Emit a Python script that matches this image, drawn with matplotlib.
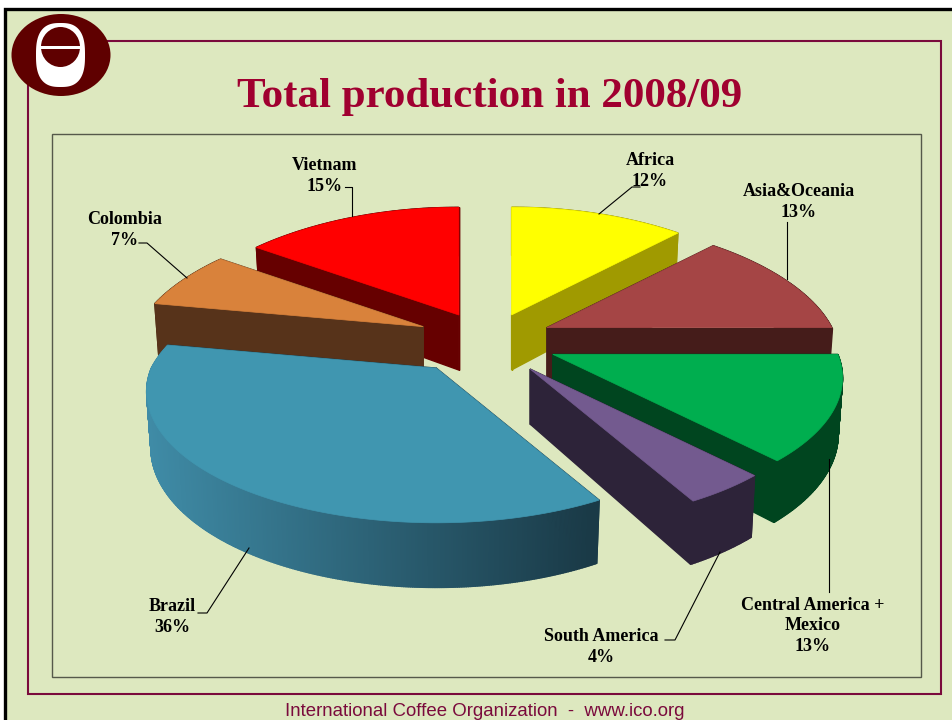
import numpy as np
import matplotlib
matplotlib.use("Agg")
import matplotlib.pyplot as plt
from matplotlib.patches import Ellipse, Polygon, Rectangle

# Coffee production shares by origin, percent, clockwise from twelve o'clock
regions = ["Africa", "Asia&Oceania", "Central America +\nMexico", "South America",
           "Brazil", "Colombia", "Vietnam"]
shares = [12, 13, 13, 4, 36, 7, 15]

top_colors = ["#ffff00", "#a54545", "#00ae4f", "#735a8f", "#4096b0", "#d9823b", "#ff0000"]
side_colors = ["#a09a00", "#451c1a", "#00451f", "#2d2339", "#1c3d4a", "#57331a", "#660000"]

W, H = 953, 720
PAPER = "#dde8bf"
MAROON = "#7a0a3c"
CX, CY = 488, 340      # pie centre in canvas pixels
RX, RY = 285, 127      # radii of the top face
PERSP = 0.179          # foreshortening towards the back of the pie
BACK_TAPER = 0.05      # extra narrowing of the far half
DEPTH = 55             # thickness of the disc
SHRINK = 0.015         # the lower face is slightly smaller
EXPLODE = 0.225
# Fine adjustment of each exploded slice, in pixels
slice_shift = [(0, 1.5), (0, -1), (6, 3), (4.5, 6), (-14, 5), (-6, -2), (0, 0.5)]

fig = plt.figure(figsize=(W / 100, H / 100), dpi=100, facecolor="white")
ax = fig.add_axes([0, 0, 1, 1])
ax.set_xlim(0, W)
ax.set_ylim(H, 0)
ax.axis("off")

# Slide background and frames
ax.add_patch(Rectangle((5.5, 8.5), W, H, fc=PAPER, ec="black", lw=2.4, zorder=0))
ax.add_patch(Rectangle((28.5, 41), 912.5, 653, fc="none", ec=MAROON, lw=1.5, zorder=1))
ax.add_patch(Rectangle((52.5, 133.5), 868.5, 543.5, fc="none", ec="#55594a", lw=1.0, zorder=1))


def project(u, v, lower, ox, oy):
    """Map a point of the unit disc to canvas pixels, on the top or lower face."""
    w = 1 - PERSP * v
    x = RX * u / w * (1 + BACK_TAPER * np.minimum(v, 0))
    y = RY * v / w
    if lower:
        x *= 1 - SHRINK
        y = y * (1 - SHRINK) + DEPTH / w
    return ox + x, oy + y


def blend(c0, c1, t):
    a = np.array(matplotlib.colors.to_rgb(c0))
    b = np.array(matplotlib.colors.to_rgb(c1))
    return tuple(a + (b - a) * t)


edges = np.deg2rad(np.cumsum([0] + shares) / sum(shares) * 360)
mids = (edges[:-1] + edges[1:]) / 2

# Painter's order: far slices first
order = np.argsort(-np.cos(mids))

for z, i in enumerate(order):
    base = 10 + z * 10
    ang = np.linspace(edges[i], edges[i + 1], max(40, shares[i] * 12))
    us, vs = np.sin(ang), -np.cos(ang)
    ox = CX + EXPLODE * RX * np.sin(mids[i]) + slice_shift[i][0]
    oy = CY - EXPLODE * RY * np.cos(mids[i]) + slice_shift[i][1]

    ring_u = np.r_[0, us, 0]
    ring_v = np.r_[0, vs, 0]
    tx, ty = project(ring_u, ring_v, False, ox, oy)
    bx, by = project(ring_u, ring_v, True, ox, oy)

    # Side quads, from the back of the slice to the front
    quads = []
    for k in range(len(ring_u) - 1):
        depth = (ring_v[k] + ring_v[k + 1]) / 2
        is_rim = 0 < k < len(ring_u) - 2
        quads.append((depth, k, is_rim))
    for depth, k, is_rim in sorted(quads):
        color = side_colors[i]
        if regions[i] == "Brazil" and is_rim:
            t = np.clip((tx[k] - 150) / (590 - 150), 0, 1)
            color = blend("#3f8ba6", "#1a3a47", t)
        poly = [(tx[k], ty[k]), (tx[k + 1], ty[k + 1]), (bx[k + 1], by[k + 1]), (bx[k], by[k])]
        ax.add_patch(Polygon(poly, closed=True, fc=color, ec=color, lw=1.0, zorder=base))
    ax.add_patch(Polygon(np.c_[tx, ty], closed=True, fc=top_colors[i], ec=top_colors[i],
                         lw=0.5, zorder=base + 5))

# Emblem in the frame corner: a white rounded pot with a dark window and crossbar
ax.add_patch(Ellipse((61, 55), 99, 82, fc="#5f0000", ec="none", zorder=200))
t = np.linspace(0, 2 * np.pi, 200)
pot_x = 60.5 + 24.5 * np.sign(np.cos(t)) * np.abs(np.cos(t)) ** (2 / 2.7)
pot_y = 55 + 32 * np.sign(np.sin(t)) * np.abs(np.sin(t)) ** (2 / 2.7)
ax.add_patch(Polygon(np.c_[pot_x, pot_y], closed=True, fc="white", ec="none", zorder=201))
ax.add_patch(Ellipse((60.5, 47), 39, 40, fc="#5f0000", ec="none", zorder=202))
ax.add_patch(Rectangle((40, 46), 41, 3, fc="white", ec="none", zorder=203))

serif = "Liberation Serif"
ax.text(490, 97, "Total production in 2008/09", family=serif, weight="bold", fontsize=31,
        color="#a00030", ha="center", va="center", zorder=210)
ax.text(485, 712, "International Coffee Organization  -  www.ico.org", family="Liberation Sans",
        fontsize=13.4, color=MAROON, ha="center", va="center", zorder=210)

# Callout text: centre of the block and the leader polyline
callouts = {
    "Africa": ((650, 171), [(599, 214), (632, 187), (640, 187)]),
    "Asia&Oceania": ((799, 202), [(787, 279), (787, 222)]),
    "Central America +\nMexico": ((813, 626), [(829, 459), (829, 592)]),
    "South America": ((601, 647), [(720, 552), (675, 640), (665, 640)]),
    "Brazil": ((172, 617), [(249, 548), (207, 613), (198, 613)]),
    "Colombia": ((125, 230), [(187, 278), (147, 243), (139, 243)]),
    "Vietnam": ((325, 176), [(352, 216), (352, 187), (345, 187)]),
}
for name, share in zip(regions, shares):
    pos, leader = callouts[name]
    xs, ys = zip(*leader)
    ax.plot(xs, ys, color="black", lw=0.8, zorder=205)
    ax.text(pos[0], pos[1], f"{name}\n{share}%", family=serif, weight="bold", fontsize=13,
            color="black", ha="center", va="center", linespacing=1.25, zorder=210)

fig.savefig("out.png", dpi=100, facecolor="white")
